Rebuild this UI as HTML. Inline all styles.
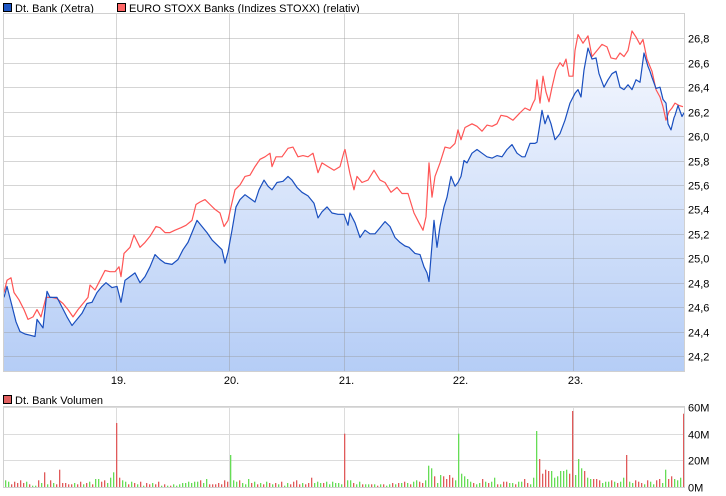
<!DOCTYPE html>
<html><head><meta charset="utf-8">
<style>
body{margin:0;background:#fff;font-family:"Liberation Sans",sans-serif;}
svg{display:block}
text{font-family:"Liberation Sans",sans-serif;font-size:11px;fill:#000}
</style></head>
<body>
<svg id="c" width="726" height="496">
<defs>
<linearGradient id="fillg" x1="0" y1="0" x2="0" y2="1">
<stop offset="0" stop-color="#f4f7fe"/>
<stop offset="1" stop-color="#b5cdf6"/>
</linearGradient>
</defs>
<g id="legend">
<rect x="3.5" y="3.5" width="8" height="8" fill="#1d56c4" stroke="#000" stroke-width="1"/>
<text x="15" y="12">Dt. Bank (Xetra)</text>
<rect x="117.5" y="3.5" width="8" height="8" fill="#ff6666" stroke="#000" stroke-width="1"/>
<text x="129" y="12">EURO STOXX Banks (Indizes STOXX) (relativ)</text>
<rect x="3.5" y="395.5" width="8" height="8" fill="#e06060" stroke="#000" stroke-width="1"/>
<text x="15" y="404">Dt. Bank Volumen</text>
</g>
</svg>
<script>
// time index (sample number, ~12 min steps from start of 18th)
const blueT=[0,3,8,12,16,21,26,31,33,39,43,46,53,58,63,68,73,78,83,88,93,98,102,108,113,117,121,126,131,136,141,146,151,156,161,168,174,179,184,188,193,198,203,208,213,218,221,224,228,232,236,241,246,251,255,260,264,268,273,279,284,288,293,298,304,310,314,318,323,328,334,340,344,346,351,356,361,366,371,376,381,386,391,396,401,405,411,416,420,423,425,427,430,433,436,440,443,447,451,454,457,460,463,468,473,478,483,488,493,498,503,508,513,518,521,526,531,533,535,538,541,544,547,551,556,561,566,571,574,577,580,584,588,592,595,600,604,608,612,616,620,624,628,632,636,640,644,646,648,652,656,659,662,664,667,670,671,674,678,680];
const blueV=[24.68,24.77,24.61,24.48,24.40,24.38,24.37,24.36,24.50,24.43,24.73,24.68,24.68,24.60,24.52,24.45,24.50,24.55,24.63,24.64,24.72,24.77,24.80,24.76,24.77,24.64,24.82,24.85,24.88,24.80,24.85,24.93,25.03,24.99,24.96,24.95,24.99,25.07,25.13,25.21,25.31,25.26,25.21,25.15,25.11,25.07,24.96,25.05,25.23,25.42,25.48,25.52,25.49,25.46,25.56,25.64,25.59,25.56,25.62,25.63,25.67,25.64,25.58,25.54,25.51,25.45,25.33,25.38,25.42,25.37,25.36,25.36,25.27,25.37,25.29,25.17,25.23,25.20,25.20,25.25,25.30,25.26,25.17,25.13,25.10,25.09,25.04,25.03,24.93,24.88,24.81,25.01,25.31,25.09,25.26,25.42,25.50,25.67,25.59,25.62,25.67,25.80,25.78,25.86,25.89,25.86,25.83,25.82,25.84,25.83,25.89,25.93,25.86,25.83,25.83,25.94,25.94,25.95,26.05,26.21,26.10,26.17,26.10,25.97,26.02,26.13,26.27,26.35,26.38,26.32,26.54,26.72,26.63,26.64,26.51,26.40,26.46,26.51,26.53,26.40,26.38,26.42,26.38,26.46,26.44,26.68,26.57,26.53,26.48,26.39,26.40,26.30,26.27,26.10,26.05,26.15,26.17,26.25,26.16,26.19,26.15];
const redT=[0,3,7,10,15,20,24,29,33,37,42,48,53,59,64,69,74,79,84,86,91,96,101,106,111,115,117,120,126,130,136,141,146,152,156,161,166,171,177,182,188,192,196,201,206,211,216,220,224,227,231,236,241,246,251,256,261,266,268,272,278,284,289,294,299,304,309,314,318,324,330,336,340,341,346,350,353,358,364,370,376,381,387,393,398,404,410,415,419,422,425,428,431,436,441,446,451,454,457,461,468,473,478,483,488,493,497,503,509,516,521,526,529,531,533,536,539,542,545,548,552,556,559,562,565,569,571,574,579,584,588,593,598,603,607,612,616,620,624,628,632,636,639,643,648,652,656,659,662,665,668,671,675,679];
const redV=[24.72,24.82,24.84,24.72,24.66,24.58,24.50,24.52,24.58,24.52,24.68,24.68,24.67,24.63,24.58,24.52,24.58,24.63,24.68,24.78,24.74,24.82,24.90,24.89,24.89,24.93,24.85,25.04,25.09,25.19,25.09,25.13,25.18,25.26,25.25,25.21,25.21,25.23,25.25,25.27,25.31,25.44,25.46,25.48,25.44,25.40,25.37,25.26,25.31,25.42,25.56,25.60,25.67,25.68,25.75,25.81,25.83,25.86,25.75,25.83,25.83,25.90,25.91,25.83,25.84,25.83,25.86,25.70,25.78,25.75,25.72,25.75,25.87,25.89,25.69,25.56,25.67,25.62,25.64,25.72,25.64,25.62,25.54,25.58,25.53,25.53,25.37,25.29,25.23,25.34,25.78,25.50,25.67,25.78,25.91,25.90,25.94,26.05,25.97,26.07,26.10,26.08,26.04,26.09,26.08,26.10,26.17,26.16,26.13,26.19,26.23,26.21,26.27,26.30,26.46,26.27,26.49,26.36,26.28,26.40,26.54,26.60,26.57,26.63,26.49,26.49,26.70,26.83,26.76,26.82,26.65,26.70,26.75,26.73,26.64,26.63,26.68,26.65,26.70,26.86,26.81,26.75,26.79,26.63,26.53,26.38,26.32,26.24,26.13,26.20,26.23,26.27,26.25,26.24];
const yTicks=[24.2,24.4,24.6,24.8,25.0,25.2,25.4,25.6,25.8,26.0,26.2,26.4,26.6,26.8];
const dayLabels=["19.","20.","21.","22.","23."];
const dayT=[112,225,340,454,569];
const volM=[5,4,2,4,3,5,3,4,2,1, 1,5,3,11,2,5,3,2,13,3, 3,2,2,3,2,4,2,3,4,2, 6,6,4,5,3,7,11,48,7,5, 4,2,4,3,2,4,1,3,2,3, 2,4,1,2,1,1,2,1,2,3, 3,4,3,4,4,5,3,6,2,2, 2,3,2,5,4,24,5,4,5,3, 2,6,3,4,2,3,2,4,3,2, 3,2,4,1,3,2,4,5,2,3, 2,3,7,3,4,3,3,4,2,4, 3,3,2,40,5,5,3,2,4,2, 2,2,2,2,1,2,2,1,2,3, 2,3,3,4,3,2,4,5,4,3, 5,16,14,8,3,9,8,6,9,7, 5,40,10,8,6,4,3,2,3,6, 4,3,4,7,2,2,4,4,3,3, 2,4,4,6,3,2,7,42,21,10, 13,12,12,7,8,12,12,13,10,57, 9,21,14,12,7,6,6,6,5,3, 4,4,5,4,3,4,7,24,4,3, 5,4,3,2,5,4,2,5,6,3, 13,6,8,6,5,7,55];
const volDir=("ggrrrrrgrg"+"grgrgrgrrr"+"rrrgrrgrgr"+"ggrrgggrrg"+"grgrgrgrrg"+"rrgrgrgggg"+"gggggrggrr"+"rrrrrgggrg"+"ggrgrgrgrg"+"rgrggrrrrg"+"rrrgggrggg"+"gggrggrggr"+"ggrgrgrggr"+"grgrgrggrr"+"gggrggrrrr"+"ggggggrggr"+"grggrgrrgg"+"rggrrgggrr"+"rrggggggrr"+"gggrggrrrg"+"ggrgrggrgg"+"rrrgrggrrg"+"grrgggr").split("");
const volTicks=[0,20,40,60];

const svg=document.getElementById('c');
const NS='http://www.w3.org/2000/svg';
const L=4,R=684,T=14,B=371,VT=407,VB=487;
const tMax=680;
const xS=t=>L+t*(R-L)/tMax;
const yS=v=>38.3+(26.8-v)*122.2;
const vS=m=>VB-m*(VB-VT)/60;
function mk(tag,attrs,parent){const e=document.createElementNS(NS,tag);for(const k in attrs)e.setAttribute(k,attrs[k]);(parent||svg).appendChild(e);return e;}

const bg=mk('rect',{x:L,y:T,width:R-L,height:B-T,fill:'#fff'});


let d='M'+xS(blueT[0])+','+B;
blueT.forEach((t,i)=>{d+=' L'+xS(t).toFixed(1)+','+yS(blueV[i]).toFixed(1);});
d+=' L'+xS(blueT[blueT.length-1])+','+B+' Z';
const area=mk('path',{d:d,fill:'url(#fillg)'});


yTicks.forEach(v=>{
  const y=Math.round(yS(v))+0.5;
  const g=mk('line',{x1:L,x2:R,y1:y,y2:y,stroke:'rgba(150,150,150,0.4)','stroke-width':1});
  
  
  const tx=mk('text',{x:688,y:y+4});
  tx.textContent=v.toFixed(1).replace('.',',');
  
  
});
dayT.forEach((t,i)=>{
  const x=Math.round(xS(t))+0.5;
  const g=mk('line',{x1:x,x2:x,y1:T,y2:B,stroke:'rgba(150,150,150,0.4)','stroke-width':1});
  
  
  const g2=mk('line',{x1:x,x2:x,y1:VT,y2:VB,stroke:'#dcdcdc','stroke-width':1});
  
  
  const tx=mk('text',{x:x+2,y:384,'text-anchor':'middle'});
  tx.textContent=dayLabels[i];
  
  
});
function line(T_,V_,col,name){
  let p='';T_.forEach((t,i)=>{p+=(i?' L':'M')+xS(t).toFixed(1)+','+yS(V_[i]).toFixed(1);});
  const e=mk('path',{d:p,fill:'none',stroke:col,'stroke-width':1.2,'stroke-linejoin':'round'});
  
  
}
line(redT,redV,'#ff5555','euro-stoxx-banks-line');
line(blueT,blueV,'#1a4fbf','dt-bank-line');
const bd=mk('rect',{x:L-0.5,y:T-0.5,width:R-L+1,height:B-T+1,fill:'none',stroke:'#d0d0d0'});



volTicks.forEach(m=>{
  const y=Math.round(vS(m))+0.5;
  if(m>0){const g=mk('line',{x1:L,x2:R,y1:y,y2:y,stroke:'#dcdcdc','stroke-width':1});
  
  }
  const tx=mk('text',{x:688,y:y+4});
  tx.textContent=m+'M';
  
  
});
const n=Math.min(volM.length,volDir.length);
const step=(R-L-2)/(n-1);
for(let i=0;i<n;i++){
  const x=L+1+i*step;
  const b=mk('rect',{x:x.toFixed(1),y:vS(volM[i]).toFixed(1),width:1.3,height:(VB-vS(volM[i])).toFixed(1),fill:volDir[i]==='g'?'#66dd55':'#e05a5a'});
  
  
}
const vb=mk('rect',{x:L-0.5,y:VT-0.5,width:R-L+1,height:VB-VT+1,fill:'none',stroke:'#d0d0d0'});


</script>
</body></html>
